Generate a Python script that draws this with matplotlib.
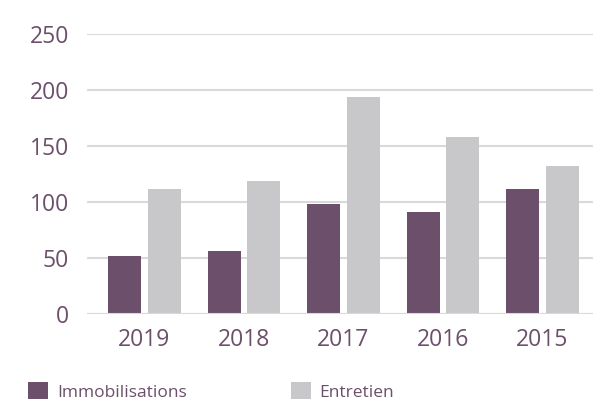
import numpy as np
import matplotlib
matplotlib.use("Agg")
import matplotlib.pyplot as plt

years = ["2019", "2018", "2017", "2016", "2015"]
immobilisations = [51.5, 56, 98, 91, 111]
entretien = [111, 118.5, 193.5, 158, 132]

purple = "#6b4f6b"
grey = "#c8c8ca"
label_col = "#6b4f6b"

plt.rcParams["font.family"] = ["Open Sans", "DejaVu Sans"]

fig = plt.figure(figsize=(5.93, 4.04), dpi=100)
ax = fig.add_axes([0.1467, 0.2235, 0.8533, 0.6931])

x = np.arange(len(years))
w = 0.332
b1 = ax.bar(x - 0.2, immobilisations, w, color=purple, zorder=3, label="Immobilisations")
b2 = ax.bar(x + 0.2, entretien, w, color=grey, zorder=3, label="Entretien")

ax.set_ylim(0, 250)
ax.set_xlim(-0.578, 4.508)
ax.set_yticks([0, 50, 100, 150, 200, 250])
ax.set_xticks(x)
ax.set_xticklabels(years)
ax.yaxis.grid(True, color="#d9d9d9", linewidth=1.5, zorder=0)
ax.tick_params(length=0, labelsize=16.5, labelcolor=label_col)
ax.tick_params(axis="y", pad=13)
ax.tick_params(axis="x", pad=10)
for s in ax.spines.values():
    s.set_visible(False)
ax.axhline(0, color="#d9d9d9", linewidth=1.5, zorder=4)

fig.legend(handles=[b1, b2], loc="lower left", bbox_to_anchor=(0.042, 0.0),
           ncol=2, frameon=False, fontsize=12.5, handlelength=1.15,
           handleheight=1.15, handletextpad=0.5, columnspacing=6.0,
           borderaxespad=0.1, borderpad=0.1, labelcolor=purple)

fig.savefig("out.png", dpi=100)
